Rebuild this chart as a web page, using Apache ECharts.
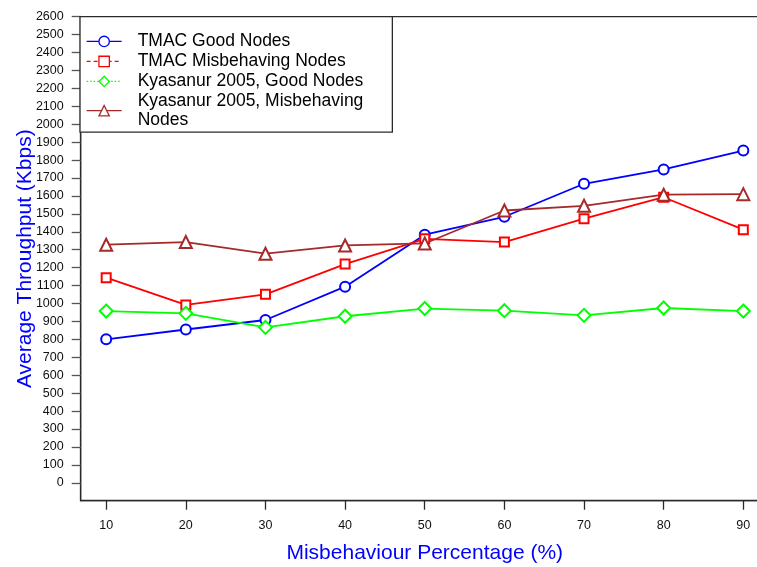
<!DOCTYPE html>
<html>
<head>
<meta charset="utf-8">
<script src="https://cdn.jsdelivr.net/npm/echarts@6/dist/echarts.min.js"></script>
<style>
  html, body { margin: 0; padding: 0; background: #ffffff; }
  #chart { width: 757px; height: 567px; }
</style>
</head>
<body>
<div id="chart"></div>
<script>
// Misbehaviour percentage on the x axis
const misbehaviourPct = [10, 20, 30, 40, 50, 60, 70, 80, 90];

// Tick values shown on the y axis (Kbps)
const throughputTicks = [0, 100, 200, 300, 400, 500, 600, 700, 800, 900, 1000, 1100, 1200,
  1300, 1400, 1500, 1600, 1700, 1800, 1900, 2000, 2100, 2200, 2300, 2400, 2500, 2600];

// Average throughput (Kbps) per series
const tmacGood            = [800, 855, 908, 1094, 1384, 1484, 1668, 1748, 1853];
const tmacMisbehaving     = [1144, 992, 1051, 1220, 1361, 1343, 1473, 1593, 1412];
const kyasanurGood        = [958, 945, 867, 929, 972, 960, 934, 975, 958];
const kyasanurMisbehaving = [1328, 1343, 1278, 1324, 1335, 1519, 1545, 1607, 1610];

const seriesNames = [
  'TMAC Good Nodes',
  'TMAC Misbehaving Nodes',
  'Kyasanur 2005, Good Nodes',
  'Kyasanur 2005, Misbehaving Nodes'
];

const FONT = "'Liberation Sans', Arial, Helvetica, sans-serif";

function pairs(values) {
  return misbehaviourPct.map((x, i) => [x, values[i]]);
}

function lineSeries(name, values, color, symbol, size) {
  return {
    name: name,
    type: 'line',
    data: pairs(values),
    symbol: symbol,
    symbolSize: size,
    showSymbol: true,
    animation: false,
    lineStyle: { color: color, width: 1.8, type: 'solid' },
    itemStyle: { color: '#ffffff', borderColor: color, borderWidth: 2 },
    emphasis: { disabled: true }
  };
}

const chart = echarts.init(document.getElementById('chart'), null, { renderer: 'canvas' });

chart.setOption({
  backgroundColor: '#ffffff',
  animation: false,
  textStyle: { fontFamily: FONT },
  grid: {
    left: 80.7,
    top: 16.7,
    right: -11.8,
    bottom: 66.3,
    containLabel: false,
    outerBoundsMode: 'none',
    show: true,
    borderColor: '#2a2a2a',
    borderWidth: 1.3,
    backgroundColor: 'transparent'
  },
  legend: {
    orient: 'vertical',
    left: 80,
    top: 16.7,
    padding: [15.5, 29, 3, 6],
    itemGap: 1.5,
    itemWidth: 35,
    itemHeight: 13,
    backgroundColor: '#ffffff',
    borderColor: '#2a2a2a',
    borderWidth: 1.3,
    borderRadius: 0,
    selectedMode: false,
    textStyle: {
      fontFamily: FONT,
      fontSize: 17.5,
      lineHeight: 18.5,
      color: '#000000',
      padding: [0, 0, 0, 11]
    },
    formatter: function (name) {
      return name === seriesNames[3] ? 'Kyasanur 2005, Misbehaving\nNodes' : name;
    },
    data: [
      { name: seriesNames[0], lineStyle: { type: 'solid', width: 1.3 }, itemStyle: { borderWidth: 1.3 } },
      { name: seriesNames[1], lineStyle: { type: [4, 3], width: 1.2 }, itemStyle: { borderWidth: 1.3 } },
      { name: seriesNames[2], lineStyle: { type: [1.5, 2], width: 1.2 }, itemStyle: { borderWidth: 1.3 } },
      { name: seriesNames[3], lineStyle: { type: 'solid', width: 1.3 }, itemStyle: { borderWidth: 1.3 } }
    ]
  },
  xAxis: {
    type: 'value',
    min: 6.8,
    max: 93.2,
    name: 'Misbehaviour Percentage (%)',
    nameLocation: 'middle',
    nameGap: 42,
    nameMoveOverlap: false,
    nameTextStyle: { color: '#0000ff', fontSize: 21, fontFamily: FONT },
    splitLine: { show: false },
    axisLine: { show: true, onZero: false, lineStyle: { color: '#2a2a2a', width: 1.3 } },
    axisTick: {
      show: true,
      inside: false,
      length: 9,
      customValues: misbehaviourPct,
      lineStyle: { color: '#2a2a2a', width: 1.3 }
    },
    axisLabel: {
      show: true,
      margin: 18,
      fontSize: 12.5,
      color: '#111111',
      fontFamily: FONT,
      customValues: misbehaviourPct,
      formatter: (v) => String(v)
    }
  },
  yAxis: {
    type: 'value',
    min: -100,
    max: 2600,
    name: 'Average Throughput (Kbps)',
    nameLocation: 'middle',
    nameGap: 45,
    nameRotate: 90,
    nameMoveOverlap: false,
    nameTextStyle: { color: '#0000ff', fontSize: 21, fontFamily: FONT },
    splitLine: { show: false },
    axisLine: { show: true, onZero: false, lineStyle: { color: '#2a2a2a', width: 1.3 } },
    axisTick: {
      show: true,
      inside: false,
      length: 9,
      customValues: throughputTicks,
      lineStyle: { color: '#555555', width: 1.3 }
    },
    axisLabel: {
      show: true,
      margin: 17,
      fontSize: 12.5,
      color: '#111111',
      fontFamily: FONT,
      customValues: throughputTicks,
      formatter: (v) => String(v)
    }
  },
  series: [
    lineSeries(seriesNames[0], tmacGood, '#0000ff', 'circle', 10),
    lineSeries(seriesNames[1], tmacMisbehaving, '#ff0000', 'rect', 9),
    lineSeries(seriesNames[2], kyasanurGood, '#00ff00', 'diamond', 13),
    lineSeries(seriesNames[3], kyasanurMisbehaving, '#a52a2a', 'triangle', 12)
  ]
});
</script>
</body>
</html>
